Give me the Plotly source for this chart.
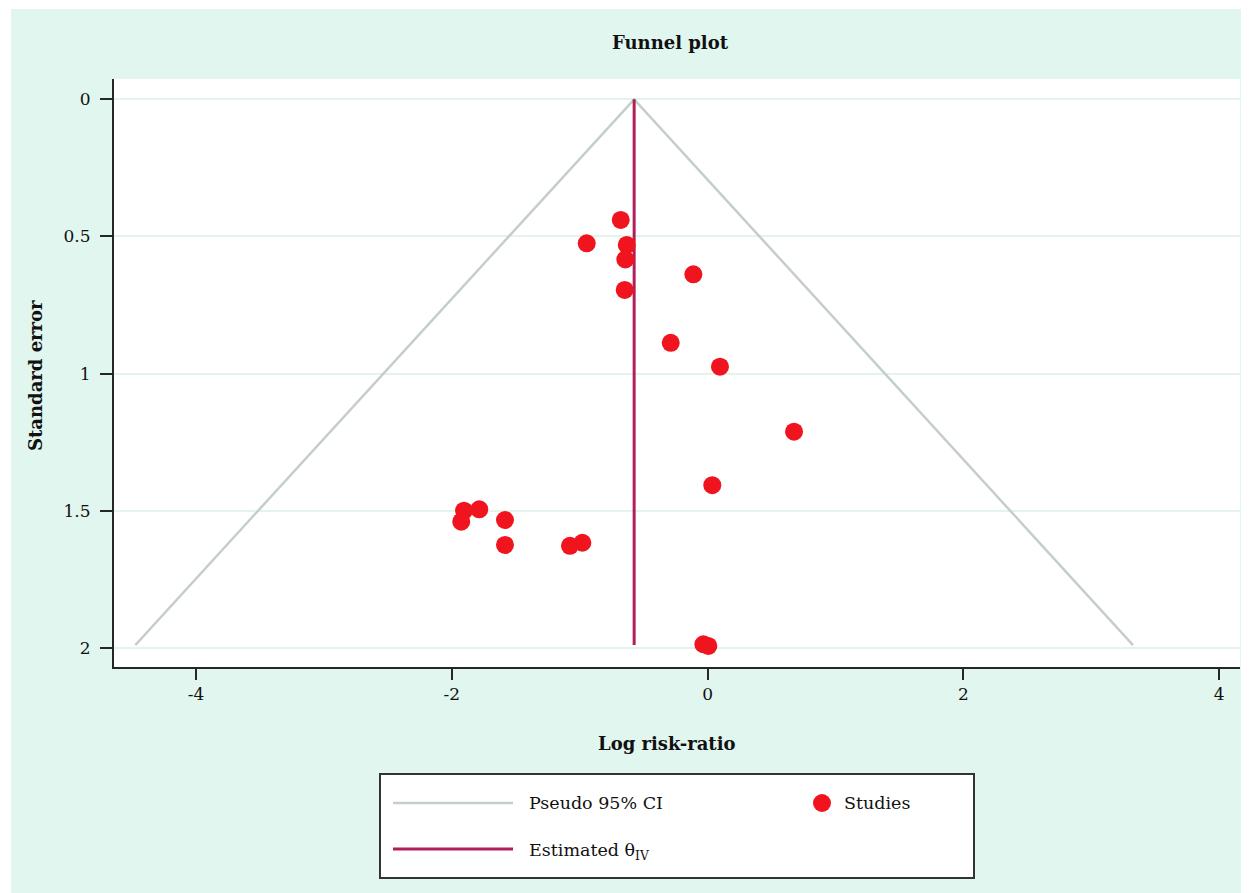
import plotly.graph_objects as go

# ---- data ----
log_rr = [-0.680, -0.946, -0.633, -0.644, -0.112, -0.649, -0.289, 0.096, 0.675,
          0.036, -1.905, -1.786, -1.927, -1.585, -1.585, -1.077, -0.980, -0.034, 0.005]
std_err = [0.440, 0.525, 0.531, 0.584, 0.638, 0.695, 0.888, 0.975, 1.212,
           1.407, 1.500, 1.495, 1.540, 1.534, 1.625, 1.628, 1.617, 1.987, 1.993]
theta_iv = -0.575          # estimated pooled effect (vertical line)
se_max = 1.99              # funnel drawn from se=0 to se_max
z95 = 1.96
x_ticks = [-4, -2, 0, 2, 4]
y_ticks = [0, 0.5, 1, 1.5, 2]

# ---- styles ----
MINT = "#e1f6ee"
CI_COLOR = "#c5cfca"
THETA_COLOR = "#b01f5a"
PT_COLOR = "#f0141e"
AXIS_COLOR = "#262626"
GRID_COLOR = "#e3f3ed"
FONT = "DejaVu Serif"

OFF = 8                     # page body margin
W, H = 1249 - OFF, 893 - OFF
ML, MT = 114 - OFF, 79 - OFF
MR = W - (1240 - OFF)
MB = H - (667 - OFF)
PW, PH = W - ML - MR, H - MT - MB


def px_x(px):
    """reference-image pixel x -> paper coordinate"""
    return (px - OFF - ML) / PW


def px_y(py):
    """reference-image pixel y -> paper coordinate"""
    return (H - MB - (py - OFF)) / PH


fig = go.Figure()

# pseudo 95% CI funnel
fig.add_trace(go.Scatter(
    x=[theta_iv - z95 * se_max, theta_iv, theta_iv + z95 * se_max],
    y=[se_max, 0, se_max],
    mode="lines", line=dict(color=CI_COLOR, width=2.5),
    showlegend=False, hoverinfo="skip"))

# estimated theta line
fig.add_trace(go.Scatter(
    x=[theta_iv, theta_iv], y=[0, se_max],
    mode="lines", line=dict(color=THETA_COLOR, width=3),
    showlegend=False, hoverinfo="skip"))

# studies
fig.add_trace(go.Scatter(
    x=log_rr, y=std_err, mode="markers",
    marker=dict(color=PT_COLOR, size=18, line=dict(width=0)),
    showlegend=False))

shapes = []
# thin white strips at left & top edge of the image
shapes.append(dict(type="rect", xref="paper", yref="paper",
                   x0=px_x(OFF), x1=px_x(11), y0=px_y(893), y1=px_y(OFF),
                   fillcolor="white", line=dict(width=0)))
shapes.append(dict(type="rect", xref="paper", yref="paper",
                   x0=px_x(OFF), x1=px_x(1249), y0=px_y(9), y1=px_y(OFF),
                   fillcolor="white", line=dict(width=0)))
# legend box
shapes.append(dict(type="rect", xref="paper", yref="paper",
                   x0=px_x(380), x1=px_x(974), y0=px_y(878), y1=px_y(774),
                   fillcolor="white", line=dict(color="#333333", width=2)))
# legend line samples
shapes.append(dict(type="line", xref="paper", yref="paper",
                   x0=px_x(393), x1=px_x(513), y0=px_y(803), y1=px_y(803),
                   line=dict(color=CI_COLOR, width=2.5)))
shapes.append(dict(type="line", xref="paper", yref="paper",
                   x0=px_x(393), x1=px_x(513), y0=px_y(849), y1=px_y(849),
                   line=dict(color=THETA_COLOR, width=3)))
# legend marker sample
r = 9
shapes.append(dict(type="circle", xref="paper", yref="paper",
                   x0=px_x(822 - r), x1=px_x(822 + r), y0=px_y(803 + r), y1=px_y(803 - r),
                   fillcolor=PT_COLOR, line=dict(width=0)))

annotations = [
    dict(text="<b>Funnel plot</b>", xref="paper", yref="paper",
         x=px_x(670), y=px_y(42), xanchor="center", yanchor="middle",
         showarrow=False, font=dict(family=FONT, size=18, color="#111111")),
    dict(text="<b>Log risk-ratio</b>", xref="paper", yref="paper",
         x=px_x(667), y=px_y(743), xanchor="center", yanchor="middle",
         showarrow=False, font=dict(family=FONT, size=18, color="#111111")),
    dict(text="<b>Standard error</b>", xref="paper", yref="paper",
         x=px_x(36), y=px_y(376), xanchor="center", yanchor="middle",
         textangle=-90, showarrow=False,
         font=dict(family=FONT, size=18, color="#111111")),
    dict(text="Pseudo 95% CI", xref="paper", yref="paper",
         x=px_x(527), y=px_y(803), xanchor="left", yanchor="middle",
         showarrow=False, font=dict(family=FONT, size=17.5, color="#111111")),
    dict(text="Studies", xref="paper", yref="paper",
         x=px_x(842), y=px_y(803), xanchor="left", yanchor="middle",
         showarrow=False, font=dict(family=FONT, size=17.5, color="#111111")),
    dict(text="Estimated θ<sub>IV</sub>", xref="paper", yref="paper",
         x=px_x(527), y=px_y(851), xanchor="left", yanchor="middle",
         showarrow=False, font=dict(family=FONT, size=17.5, color="#111111")),
]

fig.update_layout(
    width=W, height=H,
    margin=dict(l=ML, r=MR, t=MT, b=MB, pad=0),
    paper_bgcolor=MINT, plot_bgcolor="white",
    font=dict(family=FONT, size=17, color="#111111"),
    shapes=shapes, annotations=annotations,
    showlegend=False,
)
fig.update_xaxes(
    range=[-4.642, 4.162], tickvals=x_ticks, ticktext=[str(v) for v in x_ticks],
    showgrid=False, zeroline=False,
    showline=True, linecolor=AXIS_COLOR, linewidth=2,
    ticks="outside", ticklen=11, tickwidth=2, tickcolor=AXIS_COLOR,
    tickfont=dict(family=FONT, size=17, color="#111111"))
fig.update_yaxes(
    range=[2.070, -0.074], tickvals=y_ticks, ticktext=["0", "0.5", "1", "1.5", "2"],
    showgrid=True, gridcolor=GRID_COLOR, gridwidth=2, zeroline=False,
    showline=True, linecolor=AXIS_COLOR, linewidth=2,
    ticks="outside", ticklen=12, tickwidth=2, tickcolor=AXIS_COLOR,
    ticklabelstandoff=6,
    tickfont=dict(family=FONT, size=17, color="#111111"))

fig.write_html("out.html")
